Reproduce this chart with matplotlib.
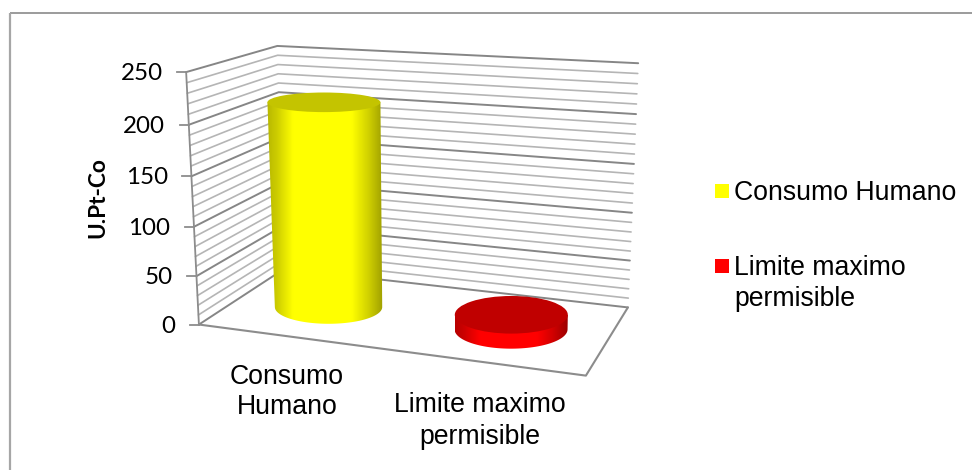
import numpy as np
import matplotlib
matplotlib.use("Agg")
import matplotlib.pyplot as plt
from matplotlib.patches import Ellipse, PathPatch, Rectangle
from matplotlib.path import Path

categories = ["Consumo\nHumano", "Limite maximo\npermisible"]
series_names = ["Consumo Humano", "Limite maximo\npermisible"]
values = [212, 15]
major_ticks = [0, 50, 100, 150, 200, 250]
minor_step = 10
y_max = 250
axis_label = "U.Pt-Co"

W, H = 972, 470
fig = plt.figure(figsize=(W / 100, H / 100), dpi=100, facecolor="white")
ax = fig.add_axes([0, 0, 1, 1])
ax.set_xlim(0, W)
ax.set_ylim(H, 0)
ax.axis("off")

# Camera of the 3-D box: (category, value, depth) -> canvas, fitted from the box corners.
box_world = np.array([[0, 0, 0], [0, 1, 0], [0, 0, 1], [0, 1, 1],
                      [1, 0, 1], [1, 1, 1], [1, 0, 0]], float)
box_screen = np.array([[198.3, 324], [186.7, 72.3], [285, 269.3], [276.7, 45.7],
                       [627.7, 307], [638.3, 63.3], [586, 376]], float)
rows = []
for (a, b, c), (sx, sy) in zip(box_world, box_screen):
    rows.append([a, b, c, 1, 0, 0, 0, 0, -sx * a, -sx * b, -sx * c, -sx])
    rows.append([0, 0, 0, 0, a, b, c, 1, -sy * a, -sy * b, -sy * c, -sy])
camera = np.linalg.svd(np.array(rows))[2][-1].reshape(3, 4)


def project(cat, value, depth):
    p = camera @ np.array([cat / len(categories), value / y_max, depth, 1.0])
    return p[:2] / p[2]


def polyline(points, **kw):
    pts = np.array(points)
    ax.plot(pts[:, 0], pts[:, 1], solid_capstyle="round", **kw)


GRID_MINOR = "#b5b5b5"
GRID_MAJOR = "#868686"
FRAME = "#8c8c8c"

# Chart area border: only the top and left sides are visible.
ax.plot([9.5, W], [12.7, 12.7], color="#8a8a8a", lw=1.2, solid_capstyle="butt")
ax.plot([9.5, 9.5], [12.7, H], color="#a6a6a6", lw=1.6, solid_capstyle="butt")

# Gridlines on the left and back walls.
for v in range(0, y_max + 1, minor_step):
    major = v in major_ticks
    polyline([project(0, v, 0), project(0, v, 1), project(2, v, 1)],
             color=GRID_MAJOR if major else GRID_MINOR, lw=1.4 if major else 1.2, zorder=1)

# Box edges and value axis ticks.
polyline([project(0, 0, 0), project(0, y_max, 0)], color=FRAME, lw=1.3, zorder=2)
polyline([project(0, 0, 0), project(2, 0, 0), project(2, 0, 1)], color=FRAME, lw=1.5, zorder=2)
for v in major_ticks:
    x, y = project(0, v, 0)
    ax.plot([x - 9, x], [y, y], color=FRAME, lw=1.3, zorder=2)
    ax.text(x - 23.5, y + 1.5, str(v), ha="right", va="center", fontsize=17.4,
            family="Lato", color="black")

ax.text(98, 197.5, axis_label, rotation=90, ha="center", va="center", fontsize=16.3,
        family="Lato", weight="bold", color="black")


def side_shade(base):
    # Horizontal shading across the curved side of a cylinder.
    stops = np.array([0, .08, .22, .72, .86, 1.0])
    levels = np.array([.72, .80, 1.0, 1.0, .82, .60])
    t = np.linspace(0, 1, 256)
    shade = np.interp(t, stops, levels)[None, :, None]
    return shade * np.array(base)[None, None, :]


def cylinder(cat, value, base, top_color, rx, ry_top, ry_base):
    bx, by = project(cat + 0.0125, 0, 0.47)
    tx, ty = project(cat + 0.0125, value, 0.47)
    rx_base = rx * 0.95 if value > 100 else rx
    tb = np.linspace(np.pi, 0, 60)
    lower = np.c_[bx + rx_base * np.cos(tb), by + ry_base * np.sin(tb)]
    outline = np.vstack([[tx - rx, ty], lower, [tx + rx, ty], [tx - rx, ty]])
    clip = PathPatch(Path(outline), transform=ax.transData, fc="none", ec="none")
    ax.add_patch(clip)
    im = ax.imshow(side_shade(base), extent=[min(tx, bx) - rx, max(tx, bx) + rx,
                                             max(lower[:, 1]), ty],
                   aspect="auto", zorder=3, interpolation="bilinear")
    im.set_clip_path(clip)
    ax.add_patch(Ellipse((tx, ty), 2 * rx, 2 * ry_top, fc=top_color, ec="none", zorder=4))


bar_colors = [(1, 1, 0), (1, 0, 0)]
top_colors = ["#c4c400", "#c00000"]
cylinder(0.5, values[0], bar_colors[0], top_colors[0], 56.5, 9.8, 16.7)
cylinder(1.5, values[1], bar_colors[1], top_colors[1], 56.5, 18.8, 19.3)
ax.set_xlim(0, W)
ax.set_ylim(H, 0)

# Category labels and legend.
arial = "Liberation Sans"
ax.text(287, 392, categories[0], ha="center", va="center", fontsize=19.2, family=arial,
        linespacing=1.25)
ax.text(480, 421, categories[1], ha="center", va="center", fontsize=19.2, family=arial,
        linespacing=1.25)

legend_y = [191, 266]
for name, color, y in zip(series_names, bar_colors, legend_y):
    ax.add_patch(Rectangle((715, y - 7), 14, 14, fc=color, ec="none"))
    ax.text(734, y - 11, name, ha="left", va="top", fontsize=19.2, family=arial, linespacing=1.25)

fig.savefig("out.png", dpi=100, facecolor="white")
